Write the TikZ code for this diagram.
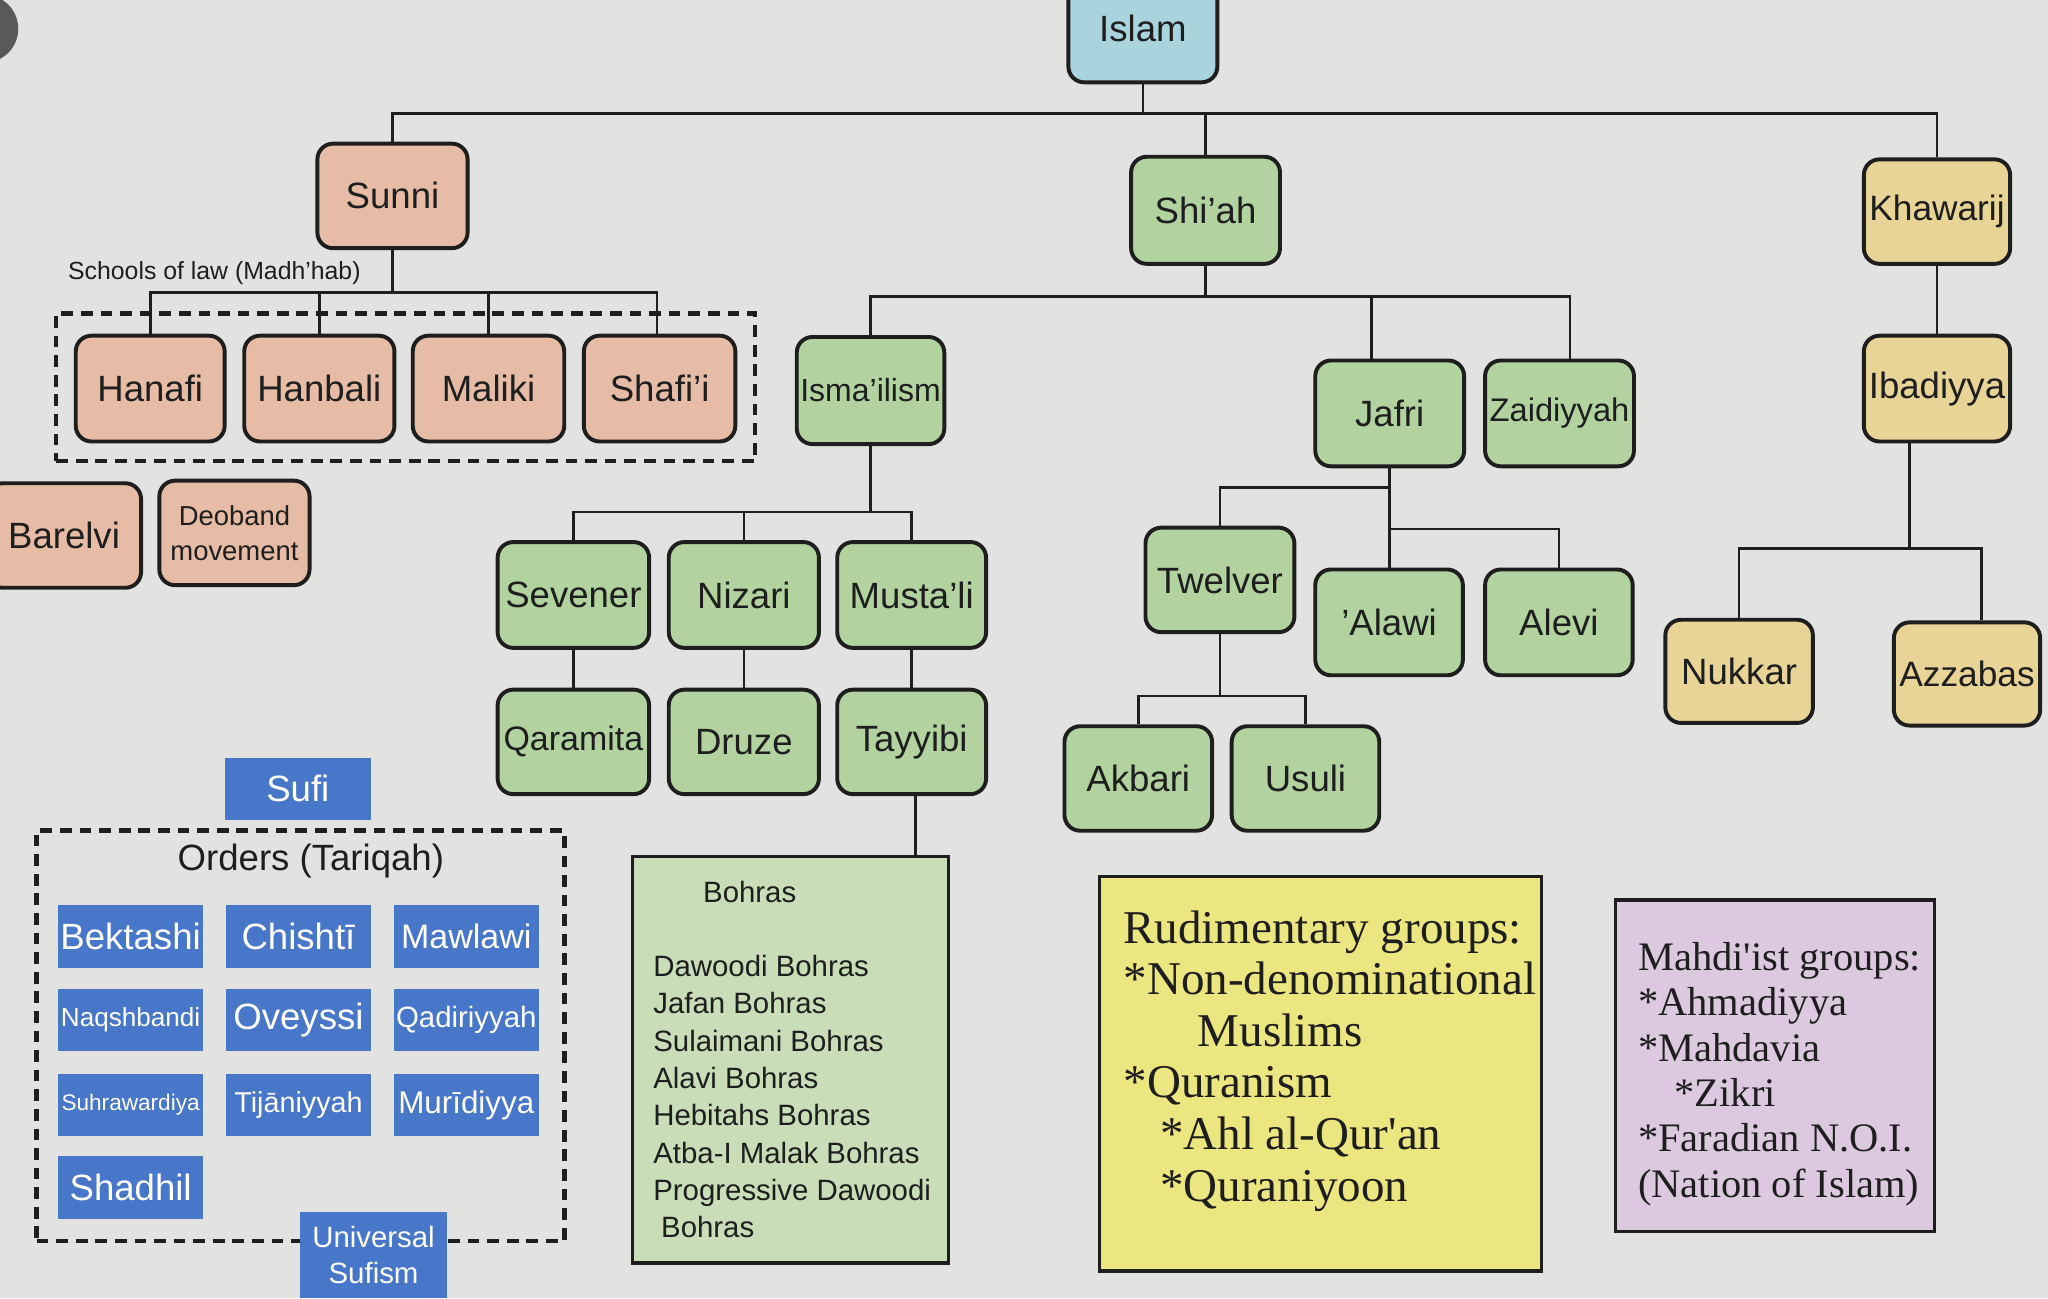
\documentclass[tikz,border=0pt]{standalone}
\usepackage{fontspec}
\setmainfont{Liberation Sans}
\newfontfamily\serifface{Liberation Serif}
\definecolor{bg}{HTML}{E2E2E0}
\definecolor{ink}{HTML}{1E1E1E}
\definecolor{islamblue}{HTML}{A9D3DD}
\definecolor{sunnisalmon}{HTML}{E6BCA6}
\definecolor{shiagreen}{HTML}{B2D3A0}
\definecolor{khawtan}{HTML}{E8D496}
\definecolor{sufiblue}{HTML}{4877C9}
\definecolor{bohgreen}{HTML}{C8DDB8}
\definecolor{rudyellow}{HTML}{ECE680}
\definecolor{mahdilav}{HTML}{DCC9E0}
\tikzset{
  conn/.style={line width=2pt, draw=ink},
  rbox/.style={draw=ink, line width=3pt, rounded corners=12pt, minimum width=114pt, minimum height=81pt,
    inner sep=0pt, text=ink, font=\fontsize{28}{32}\selectfont},
  salmonbox/.style={rbox, fill=sunnisalmon},
  greenbox/.style={rbox, fill=shiagreen},
  tanbox/.style={rbox, fill=khawtan},
  bluebox/.style={fill=sufiblue, minimum width=111pt, minimum height=48pt, inner sep=0pt, text=white,
    font=\fontsize{28}{32}\selectfont},
  dashbox/.style={draw=ink, line width=3.5pt, dash pattern=on 9pt off 6pt, inner sep=0pt},
  plainbox/.style={draw=ink, line width=2.5pt, inner sep=0pt},
  sertext/.style={anchor=base west, inner sep=0pt, text=ink, font=\serifface\fontsize{36}{40}\selectfont},
  mahtext/.style={anchor=base west, inner sep=0pt, text=ink, font=\serifface\fontsize{31}{35}\selectfont},
}
\begin{document}
\begin{tikzpicture}[x=1pt, y=-1pt]
\useasboundingbox (0,0) rectangle (1568,994);
\clip (0,0) rectangle (1568,994);
\fill[bg] (0,0) rectangle (1568,994);
\fill[black!65] (-12,22) circle (26);

% top level
\node[rbox, fill=islamblue, minimum height=83pt] (islam) at (875,21.5) {Islam};
\node[salmonbox, minimum height=80pt, minimum width=115pt] (sunni) at (300.5,150) {Sunni};
\node[greenbox, minimum height=82pt] (shiah) at (923,161) {Shi'ah};
\node[tanbox, minimum width=112pt, minimum height=80pt, font=\fontsize{27}{32}\selectfont] (khawarij) at (1483,162) {Khawarij};

% Sunni schools
\node[dashbox, minimum width=535pt, minimum height=113pt] (madhhab) at (310.5,296.5) {};
\node[anchor=west, inner sep=0pt, text=ink, font=\fontsize{19}{22}\selectfont] (schools) at (52,209) {Schools of law (Madh'hab)};
\node[salmonbox] (hanafi) at (115,297.5) {Hanafi};
\node[salmonbox, minimum width=115pt] (hanbali) at (244.5,297.5) {Hanbali};
\node[salmonbox, minimum width=116pt] (maliki) at (374,297.5) {Maliki};
\node[salmonbox, minimum width=116pt] (shafii) at (505,297.5) {Shafi'i};
\node[salmonbox, minimum width=118pt, minimum height=80pt] (barelvi) at (49,410) {Barelvi};
\node[salmonbox, minimum width=115pt, minimum height=80pt, align=center, font=\fontsize{21}{27}\selectfont] (deoband) at (179.5,408) {Deoband\\movement};

% Shi'ah branches
\node[greenbox, minimum width=113pt, minimum height=82pt, font=\fontsize{24.5}{30}\selectfont] (isma) at (666.5,299) {Isma'ilism};
\node[greenbox, minimum height=81pt] (jafri) at (1064,316.5) {Jafri};
\node[greenbox, minimum height=81pt, font=\fontsize{25}{30}\selectfont] (zaidi) at (1194,316.5) {Zaidiyyah};

\node[greenbox, minimum width=116pt] (sevener) at (439,455.5) {Sevener};
\node[greenbox, minimum width=115pt] (nizari) at (569.5,455.5) {Nizari};
\node[greenbox] (mustali) at (698,455.5) {Musta'li};
\node[greenbox, minimum width=116pt, minimum height=80pt, font=\fontsize{26}{30}\selectfont] (qaramita) at (439,568) {Qaramita};
\node[greenbox, minimum width=115pt, minimum height=80pt] (druze) at (569.5,568) {Druze};
\node[greenbox, minimum height=80pt] (tayyibi) at (698,568) {Tayyibi};

\node[plainbox, fill=bohgreen, minimum width=242pt, minimum height=311pt] (bohras) at (605,811.5) {};
\node[inner sep=0pt, text=ink, font=\fontsize{22.5}{26}\selectfont] (bohhead) at (574,683) {Bohras};
\node[anchor=north west, align=left, inner sep=0pt, text=ink, font=\fontsize{22.5}{28.6}\selectfont] (bohlist) at (500,731)
  {Dawoodi Bohras\\Jafan Bohras\\Sulaimani Bohras\\Alavi Bohras\\Hebitahs Bohras\\Atba-I Malak Bohras\\Progressive Dawoodi\\\hspace*{6pt}Bohras};

\node[greenbox, minimum height=80pt] (twelver) at (934,444) {Twelver};
\node[greenbox, minimum width=113pt] (alawi) at (1063.5,476.5) {'Alawi};
\node[greenbox, minimum width=113pt] (alevi) at (1193.5,476.5) {Alevi};
\node[greenbox, minimum width=113pt, minimum height=80pt] (akbari) at (871.5,596) {Akbari};
\node[greenbox, minimum width=113pt, minimum height=80pt] (usuli) at (999.5,596) {Usuli};

% Khawarij branches
\node[tanbox, minimum width=112pt] (ibadiyya) at (1483,297.5) {Ibadiyya};
\node[tanbox, minimum width=113pt, minimum height=79pt] (nukkar) at (1331.5,514) {Nukkar};
\node[tanbox, minimum width=112pt, minimum height=79pt, font=\fontsize{27}{32}\selectfont] (azzabas) at (1506,516) {Azzabas};

% Sufi
\node[bluebox, minimum width=112pt] (sufi) at (228,604) {Sufi};
\node[dashbox, minimum width=404pt, minimum height=314pt] (orders) at (230,793) {};
\node[inner sep=0pt, text=ink, font=\fontsize{28}{32}\selectfont] (orderslbl) at (238,659) {Orders (Tariqah)};
\node[bluebox] (bektashi) at (100,717) {Bektashi};
\node[bluebox] (chishti) at (228.5,717) {Chishtī};
\node[bluebox, font=\fontsize{26}{30}\selectfont] (mawlawi) at (357,717) {Mawlawi};
\node[bluebox, font=\fontsize{20}{24}\selectfont] (naqsh) at (100,781) {Naqshbandi};
\node[bluebox] (oveyssi) at (228.5,781) {Oveyssi};
\node[bluebox, font=\fontsize{22.5}{26}\selectfont] (qadiri) at (357,781) {Qadiriyyah};
\node[bluebox, font=\fontsize{17.3}{20}\selectfont] (suhra) at (100,846) {Suhrawardiya};
\node[bluebox, font=\fontsize{22}{26}\selectfont] (tijani) at (228.5,846) {Tijāniyyah};
\node[bluebox, font=\fontsize{24}{28}\selectfont] (muridi) at (357,846) {Murīdiyya};
\node[bluebox] (shadhil) at (100,909) {Shadhil};
\node[bluebox, minimum width=112pt, minimum height=66pt, align=center, font=\fontsize{22.5}{28}\selectfont] (universal) at (286,961) {Universal\\Sufism};

% Rudimentary groups
\node[plainbox, fill=rudyellow, minimum width=338pt, minimum height=302pt] (rud) at (1011,822) {};
\node[sertext] (r1) at (860,722) {Rudimentary groups:};
\node[sertext] (r2) at (860,761.5) {*Non-denominational};
\node[sertext] (r3) at (917,801) {Muslims};
\node[sertext] (r4) at (860,840.5) {*Quranism};
\node[sertext] (r5) at (888,880) {*Ahl al-Qur'an};
\node[sertext] (r6) at (888,919.5) {*Quraniyoon};

% Mahdi'ist groups
\node[plainbox, fill=mahdilav, minimum width=244pt, minimum height=254pt] (mahdi) at (1359,816) {};
\node[mahtext] (m1) at (1254,743) {Mahdi'ist groups:};
\node[mahtext] (m2) at (1254,777.7) {*Ahmadiyya};
\node[mahtext] (m3) at (1254,812.4) {*Mahdavia};
\node[mahtext] (m4) at (1282,847.1) {*Zikri};
\node[mahtext] (m5) at (1254,881.8) {*Faradian N.O.I.};
\node[mahtext] (m6) at (1254,916.5) {(Nation of Islam)};

% connectors
\coordinate (b0) at (875,87);
\draw[conn] (islam.south) -- (b0);
\draw[conn] (sunni.north) |- (b0) -| (khawarij.north);
\draw[conn] (shiah.north) -- (shiah.north |- b0);

\coordinate (b1) at (300.5,224);
\draw[conn] (sunni.south) -- (b1);
\draw[conn] (hanafi.north) |- (b1) -| ([xshift=-2pt]shafii.north);
\draw[conn] (hanbali.north) -- (hanbali.north |- b1);
\draw[conn] (maliki.north) -- (maliki.north |- b1);

\coordinate (b2) at (923,227);
\draw[conn] (shiah.south) -- (b2);
\draw[conn] (isma.north) |- (b2) -| ([xshift=8pt]zaidi.north);
\draw[conn] ([xshift=-14pt]jafri.north) -- ([xshift=-14pt]jafri.north |- b2);

\coordinate (b3) at (666.5,392);
\draw[conn] (isma.south) -- (b3);
\draw[conn] (sevener.north) |- (b3) -| (mustali.north);
\draw[conn] (nizari.north) -- (nizari.north |- b3);
\draw[conn] (sevener.south) -- (qaramita.north);
\draw[conn] (nizari.south) -- (druze.north);
\draw[conn] (mustali.south) -- (tayyibi.north);
\draw[conn] ([xshift=3pt]tayyibi.south) -- ([xshift=3pt]tayyibi.south |- bohras.north);

\draw[conn] (jafri.south) -- (jafri.south |- alawi.north);
\coordinate (b4) at (1064,373);
\draw[conn] (b4) -| (twelver.north);
\coordinate (b5) at (1064,405);
\draw[conn] (b5) -| (alevi.north);

\coordinate (b6) at (934,533);
\draw[conn] (twelver.south) -- (b6);
\draw[conn] (akbari.north) |- (b6) -| (usuli.north);

\draw[conn] (khawarij.south) -- (khawarij.south |- ibadiyya.north);
\coordinate (b7) at (1462,420);
\draw[conn] ([xshift=-21pt]ibadiyya.south) -- (b7);
\draw[conn] (nukkar.north) |- (b7) -| ([xshift=11pt]azzabas.north);
\end{tikzpicture}
\end{document}
